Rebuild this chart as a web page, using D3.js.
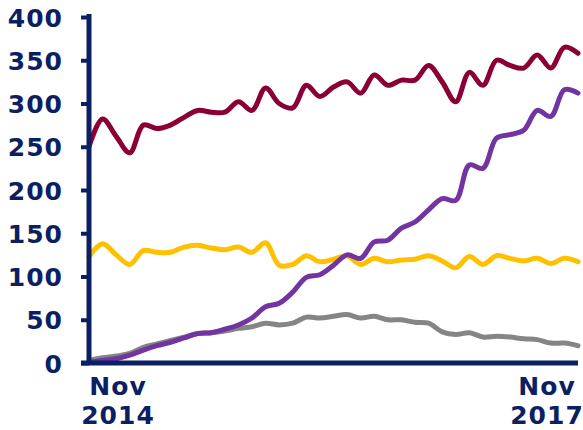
<!DOCTYPE html>
<html>
<head>
<meta charset="utf-8">
<script src="https://cdn.jsdelivr.net/npm/d3@7"></script>
<style>
  html, body { margin: 0; padding: 0; background: #fff; }
  svg { display: block; }
  .lbl { font-family: "DejaVu Sans", Verdana, sans-serif; font-weight: bold; font-size: 25px; fill: #0B1F62; }
</style>
</head>
<body>
<svg id="chart" width="583" height="430"></svg>
<script>
// Monthly observations, Nov 2014 – Nov 2017
const months = [
  "Nov 2014","Dec 2014","Jan 2015","Feb 2015","Mar 2015","Apr 2015","May 2015","Jun 2015","Jul 2015","Aug 2015","Sep 2015","Oct 2015",
  "Nov 2015","Dec 2015","Jan 2016","Feb 2016","Mar 2016","Apr 2016","May 2016","Jun 2016","Jul 2016","Aug 2016","Sep 2016","Oct 2016",
  "Nov 2016","Dec 2016","Jan 2017","Feb 2017","Mar 2017","Apr 2017","May 2017","Jun 2017","Jul 2017","Aug 2017","Sep 2017","Oct 2017",
  "Nov 2017"
];

const maroonSeries = [250, 282, 262, 243, 275, 271, 275, 284, 292, 290, 290, 302,
  292, 318, 300, 295, 321, 308, 319, 325, 312, 333, 321, 327,
  327, 344, 325, 302, 336, 321, 350, 344, 341, 356, 341, 365, 358];

const yellowSeries = [123, 138, 125, 114, 130, 128, 128, 134, 136, 133, 131, 134,
  128, 139, 113, 114, 124, 117, 120, 124, 114, 121, 117, 119,
  120, 124, 118, 110, 123, 114, 124, 121, 118, 121, 115, 121, 117];

const purpleSeries = [1, 3, 5, 9, 15, 20, 24, 29, 34, 35, 39, 44,
  52, 65, 69, 82, 99, 102, 113, 125, 121, 140, 142, 156,
  163, 177, 190, 188, 229, 225, 260, 264, 269, 292, 285, 316, 312];

const graySeries = [3, 6, 8, 11, 18, 22, 26, 30, 34, 35, 37, 40,
  42, 46, 44, 46, 53, 52, 54, 56, 52, 54, 50, 50,
  47, 46, 36, 33, 35, 30, 31, 30, 28, 27, 23, 23, 20];

const yTicks = [0, 50, 100, 150, 200, 250, 300, 350, 400];
const xLabels = [
  { at: "Nov 2014", lines: ["Nov", "2014"], shift: 29 },
  { at: "Nov 2017", lines: ["Nov", "2017"], shift: -31 }
];

const series = [
  { values: maroonSeries, color: "#8A0036" },
  { values: yellowSeries, color: "#FFC000" },
  { values: graySeries, color: "#858585" },
  { values: purpleSeries, color: "#7234A0" }
];

const svg = d3.select("#chart");
const navy = "#0B1F62";

const x = d3.scalePoint().domain(months).range([89, 578]);
const y = d3.scaleLinear().domain([0, 400]).range([363, 17]);

// Data lines
const line = d3.line()
  .x((d, i) => x(months[i]))
  .y(d => y(d))
  .curve(d3.curveCatmullRom.alpha(0.5));

svg.append("g").selectAll("path")
  .data(series)
  .join("path")
  .attr("d", s => line(s.values))
  .attr("fill", "none")
  .attr("stroke", s => s.color)
  .attr("stroke-width", 5)
  .attr("stroke-linejoin", "round")
  .attr("stroke-linecap", "round");

// Y axis
const yAxis = d3.axisLeft(y).tickValues(yTicks).tickSize(8).tickPadding(18).tickSizeOuter(0);
const gy = svg.append("g").attr("transform", "translate(89,0)").call(yAxis);
gy.select(".domain").remove();
gy.selectAll(".tick line").attr("stroke", navy).attr("stroke-width", 4);
gy.selectAll(".tick text").attr("class", "lbl").attr("dy", "0.36em").attr("letter-spacing", "1px");
gy.append("line")
  .attr("x1", 0).attr("x2", 0)
  .attr("y1", y(400) - 3).attr("y2", y(0) + 2)
  .attr("stroke", navy).attr("stroke-width", 5);

// X axis
svg.append("line")
  .attr("x1", 81).attr("x2", x(months[months.length - 1]))
  .attr("y1", y(0)).attr("y2", y(0))
  .attr("stroke", navy).attr("stroke-width", 5);

const xl = svg.append("g").selectAll("text")
  .data(xLabels)
  .join("text")
  .attr("class", "lbl")
  .attr("text-anchor", "middle")
  .attr("letter-spacing", "1px");
xl.append("tspan").attr("x", d => x(d.at) + d.shift).attr("y", 395).text(d => d.lines[0]);
xl.append("tspan").attr("x", d => x(d.at) + d.shift).attr("y", 424).text(d => d.lines[1]);
</script>
</body>
</html>
